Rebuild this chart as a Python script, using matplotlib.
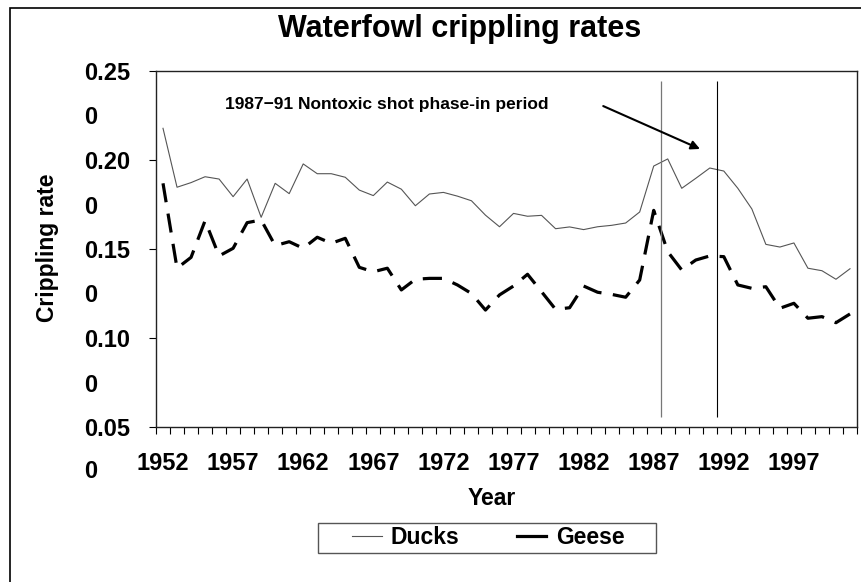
import numpy as np
import matplotlib
matplotlib.use("Agg")
import matplotlib.pyplot as plt
from matplotlib.transforms import blended_transform_factory
from matplotlib.patches import Rectangle

plt.rcParams["font.family"] = ["Liberation Sans", "DejaVu Sans"]
plt.rcParams["font.weight"] = "bold"

# ── data ───────────────────────────────────────────────────────────────────
years = np.arange(1952, 2002)
ducks = [0.2178, 0.1847, 0.1873, 0.1906, 0.1893, 0.1794, 0.1893, 0.1678, 0.1869, 0.1811,
         0.1978, 0.1923, 0.1923, 0.1903, 0.1831, 0.1800, 0.1876, 0.1836, 0.1743, 0.1809,
         0.1818, 0.1797, 0.1771, 0.1690, 0.1625, 0.1700, 0.1684, 0.1689, 0.1614, 0.1624,
         0.1609, 0.1625, 0.1633, 0.1646, 0.1708, 0.1966, 0.2006, 0.1841, 0.1897, 0.1955,
         0.1938, 0.1841, 0.1725, 0.1526, 0.1511, 0.1534, 0.1392, 0.1378, 0.1330, 0.1389]
geese = [0.1869, 0.1392, 0.1453, 0.1659, 0.1461, 0.1504, 0.1648, 0.1663, 0.1519, 0.1541,
         0.1504, 0.1566, 0.1532, 0.1560, 0.1397, 0.1372, 0.1392, 0.1270, 0.1330, 0.1335,
         0.1335, 0.1298, 0.1250, 0.1157, 0.1242, 0.1292, 0.1358, 0.1260, 0.1161, 0.1170,
         0.1292, 0.1257, 0.1245, 0.1229, 0.1326, 0.1717, 0.1485, 0.1382, 0.1438, 0.1461,
         0.1457, 0.1298, 0.1279, 0.1288, 0.1167, 0.1195, 0.1111, 0.1120, 0.1086, 0.1135]

label_years = [1952, 1957, 1962, 1967, 1972, 1977, 1982, 1987, 1992, 1997]
y_major = [0.05, 0.10, 0.15, 0.20, 0.25]
y_major_labels = ["0.05", "0.10", "0.15", "0.20", "0.25"]
y_zero = [0.075, 0.125, 0.175, 0.225]
y_zero_extra = 0.025
phase_lines = [1987.5, 1991.5]

fig = plt.figure(figsize=(8.62, 5.82), dpi=100)
ax = fig.add_axes([156 / 862, 1 - 427 / 582, 701 / 862, 356 / 582])

ax.plot(years, ducks, color="#555555", linewidth=0.8, label="Ducks")
ax.plot(years, geese, color="black", linewidth=2.3, dashes=(6.0, 3.6), label="Geese")

ax.vlines(phase_lines[0], 0.0556, 0.2444, color="#777777", linewidth=0.9)
ax.vlines(phase_lines[1], 0.0556, 0.2444, color="black", linewidth=0.8)

ax.text(1956.4, 0.2309, "1987\u221291 Nontoxic shot phase-in period",
        fontsize=12.5, fontweight="bold", ha="left", va="center")
ax.annotate("", xy=(1990.3, 0.2062), xytext=(1983.4, 0.2303),
            arrowprops=dict(arrowstyle="-|>", color="black", lw=1.5,
                            mutation_scale=13, shrinkA=0, shrinkB=0))

ax.set_xlim(1951.5, 2001.5)
ax.set_ylim(0.05, 0.25)

# x: tick marks between years, labels centred on the year
ax.set_xticks(np.arange(1951.5, 2002, 1.0))
ax.set_xticklabels([])
ax.tick_params(axis="x", which="major", direction="out", length=5, width=0.8)
ax.set_xticks(label_years, minor=True)
ax.set_xticklabels([str(y) for y in label_years], minor=True)
ax.tick_params(axis="x", which="minor", length=0, pad=18, labelsize=17)

# y: Excel-style labels, left aligned, with stray "0" labels in between
ax.set_yticks(y_major)
ax.set_yticklabels(y_major_labels)
ax.tick_params(axis="y", which="major", direction="out", length=5, width=0.8,
               pad=47, labelsize=17)
for t in ax.get_yticklabels():
    t.set_horizontalalignment("left")
ax.set_yticks(y_zero, minor=True)
ax.set_yticklabels(["0"] * len(y_zero), minor=True)
ax.tick_params(axis="y", which="minor", length=0, pad=52, labelsize=17)
for t in ax.get_yticklabels(minor=True):
    t.set_horizontalalignment("left")
trans = blended_transform_factory(ax.transAxes, ax.transData)
ax.text((84 - 156) / 701, y_zero_extra, "0", transform=trans, ha="left",
        va="center", fontsize=17, fontweight="bold", clip_on=False)

for s in ax.spines.values():
    s.set_linewidth(1.0)
    s.set_color("#222222")

ax.set_xlabel("Year", fontsize=16.5, fontweight="bold")
ax.xaxis.set_label_coords((492 - 156) / 701, (427 - 487) / 356)
ax.set_ylabel("Crippling rate", fontsize=16.5, fontweight="bold")
ax.yaxis.set_label_coords((59 - 156) / 701, (427 - 248) / 356)

fig.text(460 / 862, 1 - 29 / 582, "Waterfowl crippling rates",
         fontsize=22, fontweight="bold", ha="center", va="center")

# legend content without frame; frame drawn as a separate box like Excel
leg = fig.legend(loc="center", ncol=2, bbox_to_anchor=(488 / 862, 1 - 538 / 582),
                 fontsize=16.5, frameon=False, borderpad=0.1,
                 handlelength=1.3, handletextpad=0.4, columnspacing=2.5)
leg.get_lines()[1].set_linestyle("-")
fig.patches.append(Rectangle((318 / 862, 1 - 553 / 582), 338 / 862, 30 / 582,
                             transform=fig.transFigure, fill=False,
                             edgecolor="#555555", linewidth=1.0))

# outer chart-area border (left and top edges visible)
fig.patches.append(Rectangle((10 / 862, -0.1), 1.2, 1 - 8 / 582 + 0.1,
                             transform=fig.transFigure, fill=False,
                             edgecolor="black", linewidth=1.2))

fig.savefig("out.png", dpi=100)
